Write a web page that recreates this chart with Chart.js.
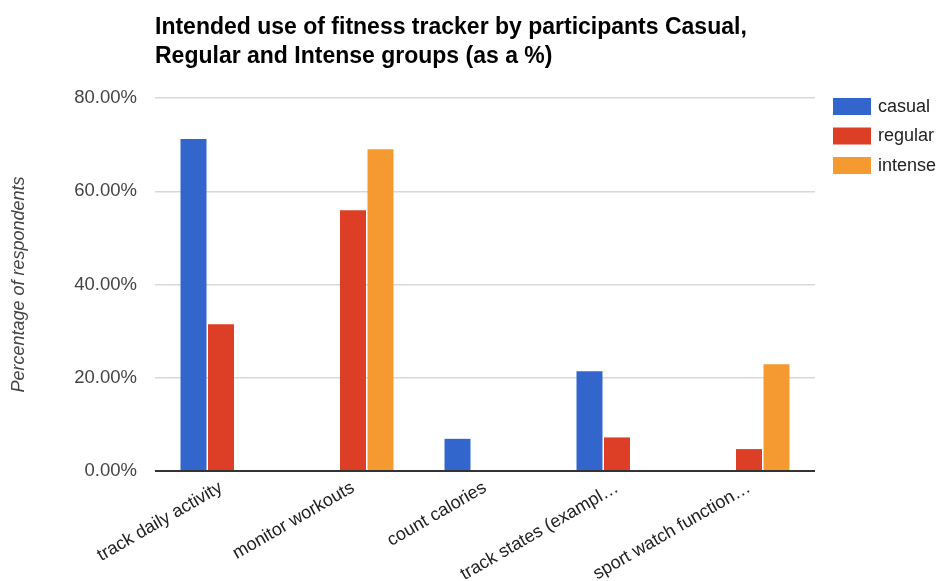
<!DOCTYPE html>
<html>
<head>
<meta charset="utf-8">
<script src="https://cdn.jsdelivr.net/npm/chart.js@4/dist/chart.umd.min.js"></script>
<style>
  html, body { margin: 0; padding: 0; background: #fff; }
  #wrap { width: 940px; height: 581px; }
</style>
</head>
<body>
<div id="wrap"><canvas id="c" width="940" height="581"></canvas></div>
<script>
// Survey categories and the share of each group choosing them (percent)
const categories = [
  'track daily activity',
  'monitor workouts',
  'count calories',
  'track states (exampl\u2026',
  'sport watch function\u2026'
];
const casual  = [71.2, 0,    6.9, 21.4, 0];
const regular = [31.5, 55.9, 0,   7.2,  4.7];
const intense = [0,    69.0, 0,   0,    22.9];

const seriesNames = ['casual', 'regular', 'intense'];
const seriesColors = ['#3366cc', '#dc3f26', '#f49a31'];
const yTicks = [0, 20, 40, 60, 80];
const titleLines = [
  'Intended use of fitness tracker by participants Casual,',
  'Regular and Intense groups (as a %)'
];
const yAxisTitle = 'Percentage of respondents';

const FONT = '"Liberation Sans", Arial, Helvetica, sans-serif';

// Two-line bold heading aligned with the left edge of the plot area
const headingPlugin = {
  id: 'heading',
  afterDraw(chart) {
    const ctx = chart.ctx;
    ctx.save();
    ctx.fillStyle = '#000';
    ctx.font = 'bold 23px ' + FONT;
    ctx.textAlign = 'left';
    ctx.textBaseline = 'alphabetic';
    titleLines.forEach((line, i) => {
      ctx.fillText(line, chart.chartArea.left, 34 + i * 29);
    });
    ctx.restore();
  }
};

// Legend column to the right of the plot
const sideLegendPlugin = {
  id: 'sideLegend',
  afterDraw(chart) {
    const ctx = chart.ctx;
    const x = chart.chartArea.right + 18;
    const y0 = chart.chartArea.top;
    ctx.save();
    ctx.font = '18px ' + FONT;
    ctx.textBaseline = 'middle';
    ctx.textAlign = 'left';
    chart.data.datasets.forEach((ds, i) => {
      const y = y0 + i * 29.5;
      ctx.fillStyle = ds.backgroundColor;
      ctx.fillRect(x, y, 38, 17);
      ctx.fillStyle = '#222';
      ctx.fillText(ds.label, x + 45, y + 9);
    });
    ctx.restore();
  }
};

const seriesData = [casual, regular, intense];

new Chart(document.getElementById('c'), {
  type: 'bar',
  data: {
    labels: categories,
    datasets: seriesNames.map((name, i) => ({
      label: name,
      data: seriesData[i],
      backgroundColor: seriesColors[i],
      borderWidth: 0,
      categoryPercentage: 0.625,
      barPercentage: 0.945
    }))
  },
  options: {
    responsive: false,
    devicePixelRatio: 1,
    animation: false,
    layout: { padding: { left: 0, top: 98, right: 125, bottom: 0 } },
    plugins: {
      legend: { display: false },
      title: { display: false },
      tooltip: { enabled: false }
    },
    scales: {
      x: {
        afterFit(scale) { scale.height = 110; },
        grid: { display: false, drawTicks: false },
        border: { display: false },
        ticks: {
          autoSkip: false,
          maxRotation: 30,
          minRotation: 30,
          padding: 6,
          color: '#222',
          font: { family: FONT, size: 18 }
        }
      },
      y: {
        min: 0,
        max: 80,
        afterFit(scale) { scale.width = 155; },
        afterBuildTicks(scale) { scale.ticks = yTicks.map(v => ({ value: v })); },
        border: { display: false },
        grid: {
          drawTicks: false,
          color: c => (c.tick && c.tick.value === 0) ? '#333' : '#d8d8d8',
          lineWidth: c => (c.tick && c.tick.value === 0) ? 2 : 1.5
        },
        ticks: {
          padding: 18,
          color: '#444',
          font: { family: FONT, size: 18.5 },
          callback: v => v.toFixed(2) + '%'
        },
        title: {
          display: true,
          text: yAxisTitle,
          color: '#444',
          padding: { top: 8, bottom: 0 },
          font: { family: FONT, size: 18, style: 'italic' }
        }
      }
    }
  },
  plugins: [headingPlugin, sideLegendPlugin]
});
</script>
</body>
</html>
